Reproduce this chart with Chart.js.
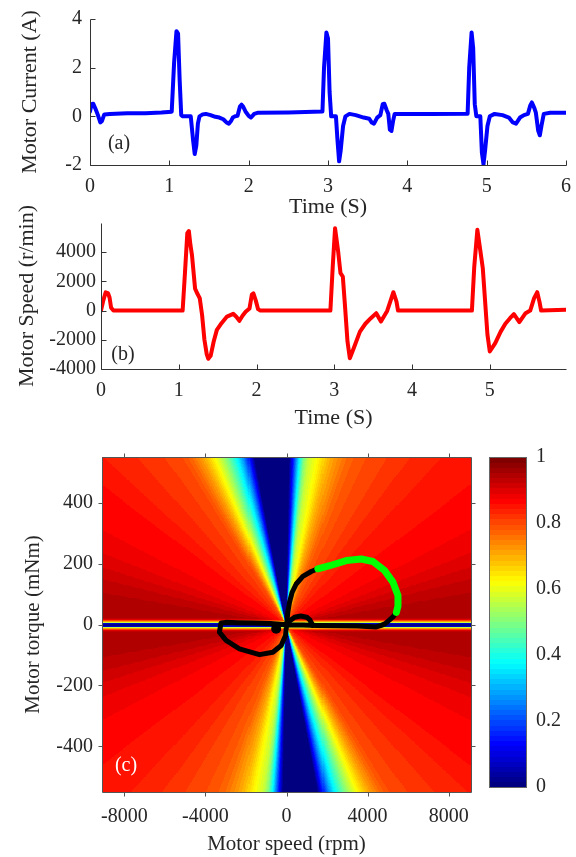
<!DOCTYPE html>
<html>
<head>
<meta charset="utf-8">
<script src="https://cdn.jsdelivr.net/npm/chart.js@4.4.1/dist/chart.umd.min.js"></script>
<style>
body { margin: 0; background: #fff; }
#wrap { position: relative; width: 576px; height: 857px; overflow: hidden; background: #fff; }
canvas { position: absolute; }
</style>
</head>
<body>
<div id="wrap">
  <canvas id="ga" width="576" height="222" style="left:0;top:0"></canvas>
  <canvas id="gb" width="576" height="240" style="left:0;top:190px"></canvas>
  <canvas id="gc" width="576" height="417" style="left:0;top:440px"></canvas>
  <canvas id="gbar" width="96" height="370" style="left:480px;top:440px"></canvas>
</div>
<script>
// (a) motor current
var timeA = [0.00,0.02,0.04,0.07,0.10,0.13,0.15,0.18,0.25,0.47,
  0.70,0.90,1.03,1.06,1.09,1.11,1.13,1.15,1.17,1.27,
  1.30,1.32,1.34,1.36,1.38,1.42,1.46,1.52,1.58,1.63,
  1.68,1.72,1.75,1.78,1.80,1.83,1.86,1.89,1.91,1.93,
  1.96,2.00,2.03,2.07,2.12,2.50,2.93,2.95,2.98,3.00,
  3.02,3.04,3.10,3.12,3.14,3.16,3.19,3.22,3.27,3.35,
  3.45,3.52,3.55,3.58,3.62,3.66,3.69,3.71,3.74,3.76,
  3.78,3.80,3.82,3.84,4.30,4.76,4.78,4.81,4.83,4.85,
  4.87,4.92,4.94,4.96,4.98,5.01,5.04,5.10,5.20,5.28,
  5.33,5.37,5.42,5.47,5.52,5.55,5.57,5.60,5.62,5.65,
  5.67,5.69,5.72,5.80,6.00];
var currentA = [0.20,0.50,0.52,0.30,0.05,-0.25,-0.20,0.08,0.10,0.13,
  0.13,0.16,0.19,2.20,3.50,3.40,1.50,0.05,0.00,0.00,
  -1.00,-1.55,-1.20,-0.30,0.00,0.08,0.10,0.05,-0.02,-0.05,
  -0.12,-0.25,-0.30,-0.18,-0.05,0.00,0.02,0.40,0.48,0.40,
  0.20,0.02,-0.05,0.10,0.15,0.16,0.20,2.00,3.45,3.20,
  1.00,0.00,0.00,-1.00,-1.85,-1.40,-0.40,0.00,0.10,0.05,
  -0.05,-0.10,-0.25,-0.30,-0.05,0.05,0.50,0.52,0.25,0.10,
  -0.55,-0.60,-0.20,0.10,0.10,0.11,2.00,3.45,2.80,0.50,
  0.00,0.00,-1.50,-1.97,-1.40,-0.40,0.00,0.10,0.05,-0.05,
  -0.25,-0.30,-0.05,0.05,0.10,0.45,0.57,0.35,0.15,-0.60,
  -0.78,-0.40,0.10,0.15,0.15];
var xTicksA = [0,1,2,3,4,5,6];
var yTicksA = [-2,0,2,4];

// (b) motor speed
var timeB = [0.00,0.03,0.06,0.09,0.11,0.13,0.16,1.05,1.08,1.11,
  1.13,1.15,1.17,1.21,1.24,1.27,1.30,1.33,1.36,1.38,
  1.41,1.45,1.49,1.55,1.62,1.70,1.74,1.78,1.82,1.86,
  1.91,1.94,1.96,1.99,2.02,2.05,2.95,2.98,3.01,3.05,
  3.08,3.11,3.14,3.17,3.20,3.25,3.33,3.40,3.47,3.54,
  3.60,3.68,3.72,3.76,3.80,3.82,4.77,4.80,4.84,4.88,
  4.91,4.97,5.00,5.07,5.14,5.20,5.26,5.31,5.38,5.46,
  5.52,5.57,5.61,5.64,5.66,5.98];
var speedB = [0,700,1250,1200,900,200,0,0,2600,5300,
  5450,4500,3800,1500,1150,850,-300,-2000,-3000,-3300,
  -3100,-2100,-1320,-860,-410,-220,-420,-700,-350,-80,
  150,1100,1180,700,100,0,0,3000,5640,4040,
  2560,2330,160,-2120,-3260,-2580,-1440,-900,-520,-180,
  -750,-20,620,1260,620,0,0,3000,5530,4040,
  2900,-1660,-2800,-2230,-1440,-900,-520,-240,-790,-180,
  0,850,1260,580,0,50];
var xTicksB = [0,1,2,3,4,5];
var yTicksB = [-4000,-2000,0,2000,4000];

// (c) operating trajectory (speed rpm, torque mNm)
var riseSpeed = [0,66,148,280,477,806,1218,1547];
var riseTorque = [-3,40,73,106,133,158,174,183];
var greenSpeed = [1547,2123,2947,3687,4263,4840,5251,5498,5498,5420];
var greenTorque = [183,193,210,215,207,177,139,95,60,40];
var returnSpeed = [5420,5250,5086,4850,4675,4430,3500,2500,1500,800,0,
  -800,-1600,-2400,-3000,-3230,-3309,-2980,-2321,-1333,-675,-263,-49,0];
var returnTorque = [40,25,15,2,-3,-8,-5,-4,-3,-2,-1,
  3,5,6,7,5,-25,-52,-80,-99,-91,-69,-36,-3];
var loopSpeed = [1300,1150,1000,700,400,200,50,0];
var loopTorque = [-3,15,24,28,24,14,4,0];
var dotSpeed = [-510];
var dotTorque = [-14];
var speedRange = [-9100, 9100];
var torqueRange = [-550, 550];
var xTicksC = [-8000,-4000,0,4000,8000];
var yTicksC = [-400,-200,0,200,400];

// efficiency map: value along rays from the origin,
// upper half plane (angle in degrees on the normalised axes), the map is point symmetric
var mapAngle = [0,8,15,22,30,40,45,54,62,67,71,75,77,80,83,84.4,86,87.5,88.5,89.1,
  99.8,100.5,101.4,103,104.3,105.8,107.2,109,111.3,113,114.5,117,119,124,135,140,150,158,165,172,180];
var mapEff = [0.96,0.955,0.93,0.90,0.88,0.865,0.86,0.84,0.815,0.80,0.78,0.73,0.70,0.63,0.57,0.50,0.35,0.17,0.06,0,
  0,0.07,0.15,0.27,0.35,0.42,0.48,0.55,0.63,0.68,0.72,0.77,0.80,0.82,0.85,0.865,0.88,0.90,0.93,0.955,0.96];
// thin dip along zero torque
var bandTorque = [0,3,5,7,9,12,16,22,30];
var bandEff = [0,0.03,0.15,0.40,0.60,0.75,0.87,0.95,1];
var cbTicks = [0,0.2,0.4,0.6,0.8,1];

var serif = 'Liberation Serif';
var ink = '#262626';

function pts(xs, ys) {
    return xs.map(function(v, i){ return {x: v, y: ys[i]}; });
}

function fixedY(w) {
    return function(s){ s.width = w; s.paddingTop = 0; s.paddingBottom = 0; s.paddingLeft = 0; s.paddingRight = 0; };
}

function fixedX(h) {
    return function(s){ s.height = h; s.paddingTop = 0; s.paddingBottom = 0; s.paddingLeft = 0; s.paddingRight = 0; };
}

function useTicks(list) {
    return function(s){ s.ticks = list.map(function(v){ return {value: v}; }); };
}

function lookup(xs, ys, v) {
    if (v <= xs[0]) return ys[0];
    for (var i = 1; i < xs.length; i++) {
        if (v <= xs[i]) {
            var f = (v - xs[i-1]) / (xs[i] - xs[i-1]);
            return ys[i-1] + f * (ys[i] - ys[i-1]);
        }
    }
    return ys[ys.length - 1];
}

// matlab jet, 64 steps
var jetLut = [];
for (var i = 0; i < 64; i++) {
    var v = i / 63;
    var c = function(k){ return Math.round(255 * Math.max(0, Math.min(1, 1.5 - Math.abs(4 * v - k)))); };
    jetLut.push('rgb(' + c(3) + ',' + c(2) + ',' + c(1) + ')');
}

function effAt(s, t) {
    var u = s / speedRange[1], w = t / torqueRange[1];
    if (w < 0) { u = -u; w = -w; }
    var th = Math.atan2(w, u) * 180 / Math.PI;
    var e = lookup(mapAngle, mapEff, th);
    var b = lookup(bandTorque, bandEff, Math.abs(t));
    return Math.min(e, b);
}

function axisStyle(title, pad, size) {
    return {
        type: 'linear',
        grid: {display: false, drawTicks: false},
        border: {display: false},
        ticks: {autoSkip: false, maxRotation: 0, padding: pad, color: ink,
                font: {family: serif, size: size}, callback: function(v){ return String(v); }},
        title: {display: true, text: title, color: ink, font: {family: serif, size: 22}}
    };
}

var matlabAxes = {
    id: 'matlabAxes',
    afterDatasetsDraw: function(chart, args, opts) {
        var ctx = chart.ctx, a = chart.chartArea, x = chart.scales.x, y = chart.scales.y;
        var dir = opts.inward ? 1 : -1, len = opts.tickLen;
        var L = Math.round(a.left) + 0.5, R = Math.round(a.right) + 0.5;
        var T = Math.round(a.top) + 0.5, B = Math.round(a.bottom) + 0.5;
        ctx.save();
        ctx.strokeStyle = opts.color;
        ctx.lineWidth = 1;
        ctx.beginPath();
        if (opts.box) {
            ctx.rect(L, T, R - L, B - T);
        } else {
            ctx.moveTo(L, T); ctx.lineTo(L, B); ctx.lineTo(R, B);
        }
        x.ticks.forEach(function(tk){
            var px = Math.round(x.getPixelForValue(tk.value)) + 0.5;
            ctx.moveTo(px, B); ctx.lineTo(px, B - dir * len);
            if (opts.box) { ctx.moveTo(px, T); ctx.lineTo(px, T + dir * len); }
        });
        y.ticks.forEach(function(tk){
            var py = Math.round(y.getPixelForValue(tk.value)) + 0.5;
            ctx.moveTo(L, py); ctx.lineTo(L + dir * len, py);
            if (opts.box) { ctx.moveTo(R, py); ctx.lineTo(R - dir * len, py); }
        });
        ctx.stroke();
        ctx.fillStyle = opts.labelColor;
        ctx.font = '20px "' + serif + '"';
        ctx.textAlign = 'center';
        ctx.textBaseline = 'middle';
        ctx.fillText(opts.label, x.getPixelForValue(opts.labelAt[0]), y.getPixelForValue(opts.labelAt[1]));
        ctx.restore();
    }
};

var heatMap = {
    id: 'heatMap',
    beforeDatasetsDraw: function(chart) {
        var ctx = chart.ctx, a = chart.chartArea, x = chart.scales.x, y = chart.scales.y;
        var ds = 50, dt = 2.5;
        var nx = Math.round((speedRange[1] - speedRange[0]) / ds);
        var ny = Math.round((torqueRange[1] - torqueRange[0]) / dt);
        ctx.save();
        ctx.beginPath();
        ctx.rect(a.left, a.top, a.width, a.height);
        ctx.clip();
        for (var i = 0; i < nx; i++) {
            var s0 = speedRange[0] + i * ds;
            var x0 = Math.floor(x.getPixelForValue(s0)), x1 = Math.ceil(x.getPixelForValue(s0 + ds));
            for (var j = 0; j < ny; j++) {
                var t0 = torqueRange[0] + j * dt;
                var y0 = Math.floor(y.getPixelForValue(t0 + dt)), y1 = Math.ceil(y.getPixelForValue(t0));
                var e = effAt(s0 + ds / 2, t0 + dt / 2);
                ctx.fillStyle = jetLut[Math.max(0, Math.min(63, Math.round(e * 63)))];
                ctx.fillRect(x0, y0, x1 - x0, y1 - y0);
            }
        }
        ctx.restore();
    }
};

var colorBar = {
    id: 'colorBar',
    afterDraw: function(chart) {
        var ctx = chart.ctx, a = chart.chartArea, y = chart.scales.y;
        ctx.save();
        for (var i = 0; i < 64; i++) {
            var y0 = y.getPixelForValue((i + 1) / 64), y1 = y.getPixelForValue(i / 64);
            ctx.fillStyle = jetLut[i];
            ctx.fillRect(a.left, Math.floor(y0), a.right - a.left, Math.ceil(y1) - Math.floor(y0));
        }
        ctx.strokeStyle = '#666';
        ctx.lineWidth = 1;
        ctx.strokeRect(Math.round(a.left) + 0.5, Math.round(a.top) + 0.5, Math.round(a.width), Math.round(a.height));
        ctx.restore();
    }
};

var base = {
    responsive: false,
    animation: false,
    events: [],
    plugins: {legend: {display: false}, tooltip: {enabled: false}}
};

function lineSet(xs, ys, color, width) {
    return {data: pts(xs, ys), showLine: true, borderColor: color, borderWidth: width,
            pointRadius: 0, borderJoinStyle: 'round', borderCapStyle: 'round', tension: 0};
}

// panel (a)
var xa = axisStyle('Time (S)', 10, 20);
xa.min = 0; xa.max = 6;
xa.afterBuildTicks = useTicks(xTicksA);
xa.afterFit = fixedX(57);
xa.title.padding = {top: 0, bottom: 2};
var ya = axisStyle('Motor Current (A)', 8, 20);
ya.min = -2; ya.max = 4;
ya.afterBuildTicks = useTicks(yTicksA);
ya.afterFit = fixedY(90);
ya.title.padding = {top: 17, bottom: 0};

new Chart(document.getElementById('ga'), {
    type: 'scatter',
    data: {datasets: [lineSet(timeA, currentA, '#0000ff', 4)]},
    options: Object.assign({}, base, {
        layout: {padding: {left: 0, right: 10, top: 19, bottom: 0}},
        scales: {x: xa, y: ya},
        plugins: Object.assign({}, base.plugins, {
            matlabAxes: {box: false, inward: true, tickLen: 5, color: '#333', label: '(a)', labelAt: [0.366, -1.14], labelColor: ink}
        })
    }),
    plugins: [matlabAxes]
});

// panel (b)
var xb = axisStyle('Time (S)', 10, 20);
xb.min = 0; xb.max = 5.98;
xb.afterBuildTicks = useTicks(xTicksB);
xb.afterFit = fixedX(61);
xb.title.padding = {top: 0, bottom: -1};
var yb = axisStyle('Motor Speed (r/min)', 5, 20);
yb.min = -4000; yb.max = 6000;
yb.afterBuildTicks = useTicks(yTicksB);
yb.afterFit = fixedY(101);
yb.title.padding = {top: 14, bottom: 0};

new Chart(document.getElementById('gb'), {
    type: 'scatter',
    data: {datasets: [lineSet(timeB, speedB, '#ff0000', 4)]},
    options: Object.assign({}, base, {
        layout: {padding: {left: 0, right: 10, top: 33, bottom: 0}},
        scales: {x: xb, y: yb},
        plugins: Object.assign({}, base.plugins, {
            matlabAxes: {box: false, inward: true, tickLen: 5, color: '#333', label: '(b)', labelAt: [0.283, -3041], labelColor: ink}
        })
    }),
    plugins: [matlabAxes]
});

// panel (c)
var xc = axisStyle('Motor speed (rpm)', 13, 20);
xc.min = speedRange[0]; xc.max = speedRange[1];
xc.afterBuildTicks = useTicks(xTicksC);
xc.afterFit = fixedX(65);
xc.title.font = {family: serif, size: 21};
xc.title.padding = {top: 0, bottom: 0};
var yc = axisStyle('Motor torque (mNm)', 9, 20);
yc.min = torqueRange[0]; yc.max = torqueRange[1];
yc.afterBuildTicks = useTicks(yTicksC);
yc.afterFit = fixedY(102);
yc.title.font = {family: serif, size: 21};
yc.title.padding = {top: 21, bottom: 0};

var dot = {data: pts(dotSpeed, dotTorque), pointRadius: 5, pointBackgroundColor: '#000', pointBorderWidth: 0};

new Chart(document.getElementById('gc'), {
    type: 'scatter',
    data: {datasets: [
        lineSet(greenSpeed, greenTorque, '#00ff00', 7),
        dot,
        lineSet(riseSpeed, riseTorque, '#000', 5),
        lineSet(returnSpeed, returnTorque, '#000', 5),
        lineSet(loopSpeed, loopTorque, '#000', 5)
    ]},
    options: Object.assign({}, base, {
        layout: {padding: {left: 0, right: 105, top: 17, bottom: 0}},
        scales: {x: xc, y: yc},
        plugins: Object.assign({}, base.plugins, {
            matlabAxes: {box: true, inward: false, tickLen: 4, color: '#555', label: '(c)', labelAt: [-7916, -465], labelColor: '#fff'}
        })
    }),
    plugins: [heatMap, matlabAxes]
});

// colour bar
var ycb = axisStyle('', 10, 20);
ycb.position = 'right';
ycb.min = 0; ycb.max = 1;
ycb.afterBuildTicks = useTicks(cbTicks);
ycb.afterFit = fixedY(50);
ycb.title = {display: false};

new Chart(document.getElementById('gbar'), {
    type: 'scatter',
    data: {datasets: []},
    options: Object.assign({}, base, {
        layout: {padding: {left: 9, right: 0, top: 17, bottom: 23}},
        scales: {x: {type: 'linear', display: false, min: 0, max: 1}, y: ycb}
    }),
    plugins: [colorBar]
});
</script>
</body>
</html>
